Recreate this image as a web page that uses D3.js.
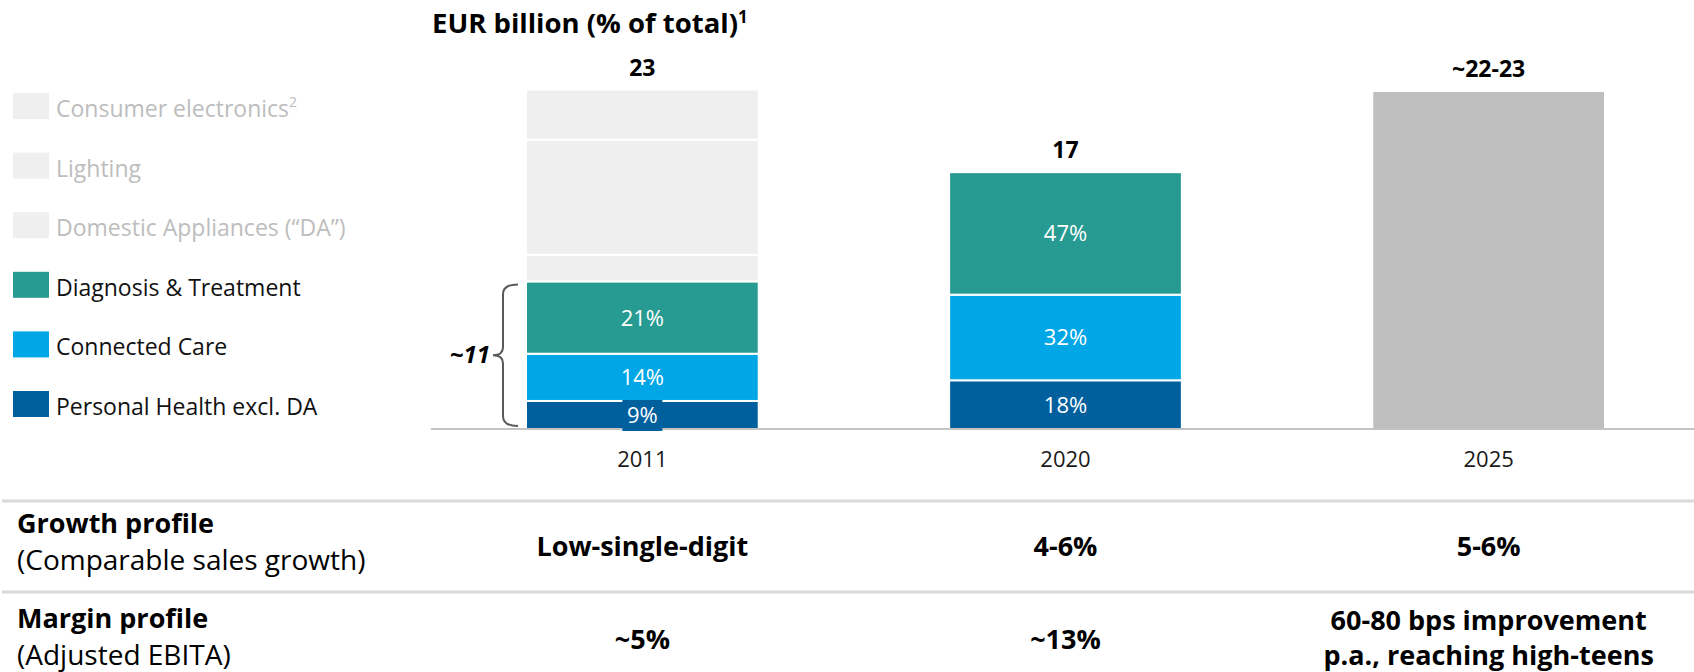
<!DOCTYPE html>
<html>
<head>
<meta charset="utf-8">
<script src="https://cdn.jsdelivr.net/npm/d3@7"></script>
<style>
  body { margin: 0; background: #fff; font-family: "Open Sans", sans-serif; }
  svg text { font-family: "Open Sans", sans-serif; }
</style>
</head>
<body>
<svg id="chart"></svg>
<script>
// years on the x axis
const years = ["2011", "2020", "2025"];

// segment values, EUR billion
const personalHealth = [1.9, 3.3, 0];
const connectedCare = [3.2, 5.8, 0];
const diagnosisTreatment = [4.9, 8.3, 0];
const domesticAppliances = [1.8, 0, 0];
const lighting = [7.8, 0, 0];
const consumerElectronics = [3.4, 0, 0];
const outlook2025 = [0, 0, 22.9];

// labels
const shareLabelsPH = ["9%", "18%", ""];
const shareLabelsCC = ["14%", "32%", ""];
const shareLabelsDT = ["21%", "47%", ""];
const totalLabels = ["23", "17", "~22-23"];
const healthTechLabel = "~11";

const legendNames = ["Consumer electronics", "Lighting", "Domestic Appliances (\u201CDA\u201D)",
    "Diagnosis & Treatment", "Connected Care", "Personal Health excl. DA"];

const growthProfile = ["Low-single-digit", "4-6%", "5-6%"];
const marginProfile = [["~5%"], ["~13%"], ["60-80 bps improvement", "p.a., reaching high-teens"]];

const colors = {
    ph: "#00609e",
    cc: "#00a6e6",
    dt: "#279b91",
    legacy: "#efefef",
    outlook: "#bfbfbf",
    legacyText: "#bdbdbd"
};

const W = 1694, H = 672;
const svg = d3.select("#chart").attr("width", W).attr("height", H);

const x = d3.scaleBand()
    .domain(years)
    .range([526, 1605])
    .paddingInner(0.45)
    .paddingOuter(0);

const y = d3.scaleLinear()
    .domain([0, 23])
    .range([429, 89.5]);

// build stacked series
const segKeys = ["ph", "cc", "dt", "da", "li", "ce", "out"];
const segColor = { ph: colors.ph, cc: colors.cc, dt: colors.dt, da: colors.legacy, li: colors.legacy, ce: colors.legacy, out: colors.outlook };
const table = years.map((yr, i) => ({
    year: yr,
    ph: personalHealth[i], cc: connectedCare[i], dt: diagnosisTreatment[i],
    da: domesticAppliances[i], li: lighting[i], ce: consumerElectronics[i], out: outlook2025[i]
}));
const series = d3.stack().keys(segKeys)(table);

const chart = svg.append("g");

series.forEach(s => {
    chart.selectAll(null)
        .data(s.filter(d => d[1] - d[0] > 0))
        .join("rect")
        .attr("x", d => x(d.data.year))
        .attr("width", x.bandwidth())
        .attr("y", d => y(d[1]))
        .attr("height", d => y(d[0]) - y(d[1]))
        .attr("fill", segColor[s.key])
        .attr("stroke", "#fff")
        .attr("stroke-width", 2);
});

// baseline
chart.append("line")
    .attr("x1", 431).attr("x2", W)
    .attr("y1", y(0)).attr("y2", y(0))
    .attr("stroke", "#c4c4c4").attr("stroke-width", 2);

// share labels inside segments
const shareSets = [["ph", shareLabelsPH], ["cc", shareLabelsCC], ["dt", shareLabelsDT]];
shareSets.forEach(([key, labels]) => {
    const s = series.find(d => d.key === key);
    s.forEach((d, i) => {
        if (!labels[i]) return;
        const cx = x(d.data.year) + x.bandwidth() / 2;
        const cy = (y(d[0]) + y(d[1])) / 2;
        // small segment: label gets its own box that overflows the segment
        if (y(d[0]) - y(d[1]) < 32) {
            chart.append("rect")
                .attr("x", cx - 20).attr("y", cy - 15)
                .attr("width", 40).attr("height", 31)
                .attr("fill", segColor[key]);
        }
        chart.append("text")
            .attr("x", cx).attr("y", cy + 8)
            .attr("text-anchor", "middle")
            .attr("fill", "#fff")
            .attr("font-size", 22)
            .text(labels[i]);
    });
});

// totals above bars
const topSeries = series[series.length - 1];
chart.selectAll(".total")
    .data(topSeries)
    .join("text")
    .attr("class", "total")
    .attr("x", d => x(d.data.year) + x.bandwidth() / 2)
    .attr("y", d => y(d[1]) - 14)
    .attr("text-anchor", "middle")
    .attr("font-size", 23)
    .attr("font-weight", 700)
    .text((d, i) => totalLabels[i]);

// x axis labels
const xAxis = d3.axisBottom(x).tickSize(0).tickPadding(31);
const xAxisGroup = chart.append("g")
    .attr("transform", `translate(0, ${y(0)})`)
    .call(xAxis);
xAxisGroup.select(".domain").remove();
xAxisGroup.selectAll("text")
    .attr("font-size", 22)
    .attr("fill", "#1a1a1a")
    .attr("font-family", "Open Sans, sans-serif")
    .attr("dy", "0.3em");

// brace round the health technology segments of 2011
const hs = series.find(d => d.key === "dt")[0];
const bTop = y(hs[1]) + 3, bBot = y(0) - 3, bMid = (bTop + bBot) / 2;
const bx = 503;
chart.append("path")
    .attr("d", `M${bx + 15},${bTop} Q${bx},${bTop} ${bx},${bTop + 10} L${bx},${bMid - 8} Q${bx},${bMid} ${bx - 10},${bMid}
                Q${bx},${bMid} ${bx},${bMid + 8} L${bx},${bBot - 10} Q${bx},${bBot} ${bx + 15},${bBot}`)
    .attr("fill", "none")
    .attr("stroke", "#595959")
    .attr("stroke-width", 2);
chart.append("text")
    .attr("x", bx - 13).attr("y", bMid + 8)
    .attr("text-anchor", "end")
    .attr("font-size", 24)
    .attr("font-weight", 700)
    .attr("font-style", "italic")
    .text(healthTechLabel);

// title
const title = svg.append("text")
    .attr("x", 432).attr("y", 33)
    .attr("font-size", 27.5)
    .attr("font-weight", 700)
    .text("EUR billion (% of total)");
title.append("tspan").attr("font-size", 17).attr("dy", -10).text("1");

// legend
const legendColors = [colors.legacy, colors.legacy, colors.legacy, colors.dt, colors.cc, colors.ph];
const legend = svg.append("g");
legendNames.forEach((name, i) => {
    const by = 117 + i * 59.6;
    legend.append("rect")
        .attr("x", 13).attr("y", by - 24)
        .attr("width", 36).attr("height", 26)
        .attr("fill", legendColors[i]);
    const t = legend.append("text")
        .attr("x", 56).attr("y", by)
        .attr("font-size", 23)
        .attr("fill", i < 3 ? colors.legacyText : "#111")
        .text(name);
    if (i === 0) t.append("tspan").attr("font-size", 14).attr("dy", -10).text("2");
});

// profile table
const tbl = svg.append("g");
[501, 592].forEach(ly => {
    tbl.append("line")
        .attr("x1", 2).attr("x2", W)
        .attr("y1", ly).attr("y2", ly)
        .attr("stroke", "#d9d9d9").attr("stroke-width", 3);
});
const rowHeads = [["Growth profile", "(Comparable sales growth)", 533], ["Margin profile", "(Adjusted EBITA)", 628]];
rowHeads.forEach(([head, sub, by]) => {
    tbl.append("text").attr("x", 17).attr("y", by)
        .attr("font-size", 27).attr("font-weight", 700).text(head);
    tbl.append("text").attr("x", 17).attr("y", by + 37)
        .attr("font-size", 28).text(sub);
});
years.forEach((yr, i) => {
    const cx = x(yr) + x.bandwidth() / 2;
    tbl.append("text").attr("x", cx).attr("y", 556)
        .attr("text-anchor", "middle")
        .attr("font-size", 27).attr("font-weight", 700)
        .text(growthProfile[i]);
    const lines = marginProfile[i];
    const startY = lines.length === 1 ? 649 : 630;
    lines.forEach((ln, j) => {
        tbl.append("text").attr("x", cx).attr("y", startY + j * 35)
            .attr("text-anchor", "middle")
            .attr("font-size", 27).attr("font-weight", 700)
            .text(ln);
    });
});
</script>
</body>
</html>
